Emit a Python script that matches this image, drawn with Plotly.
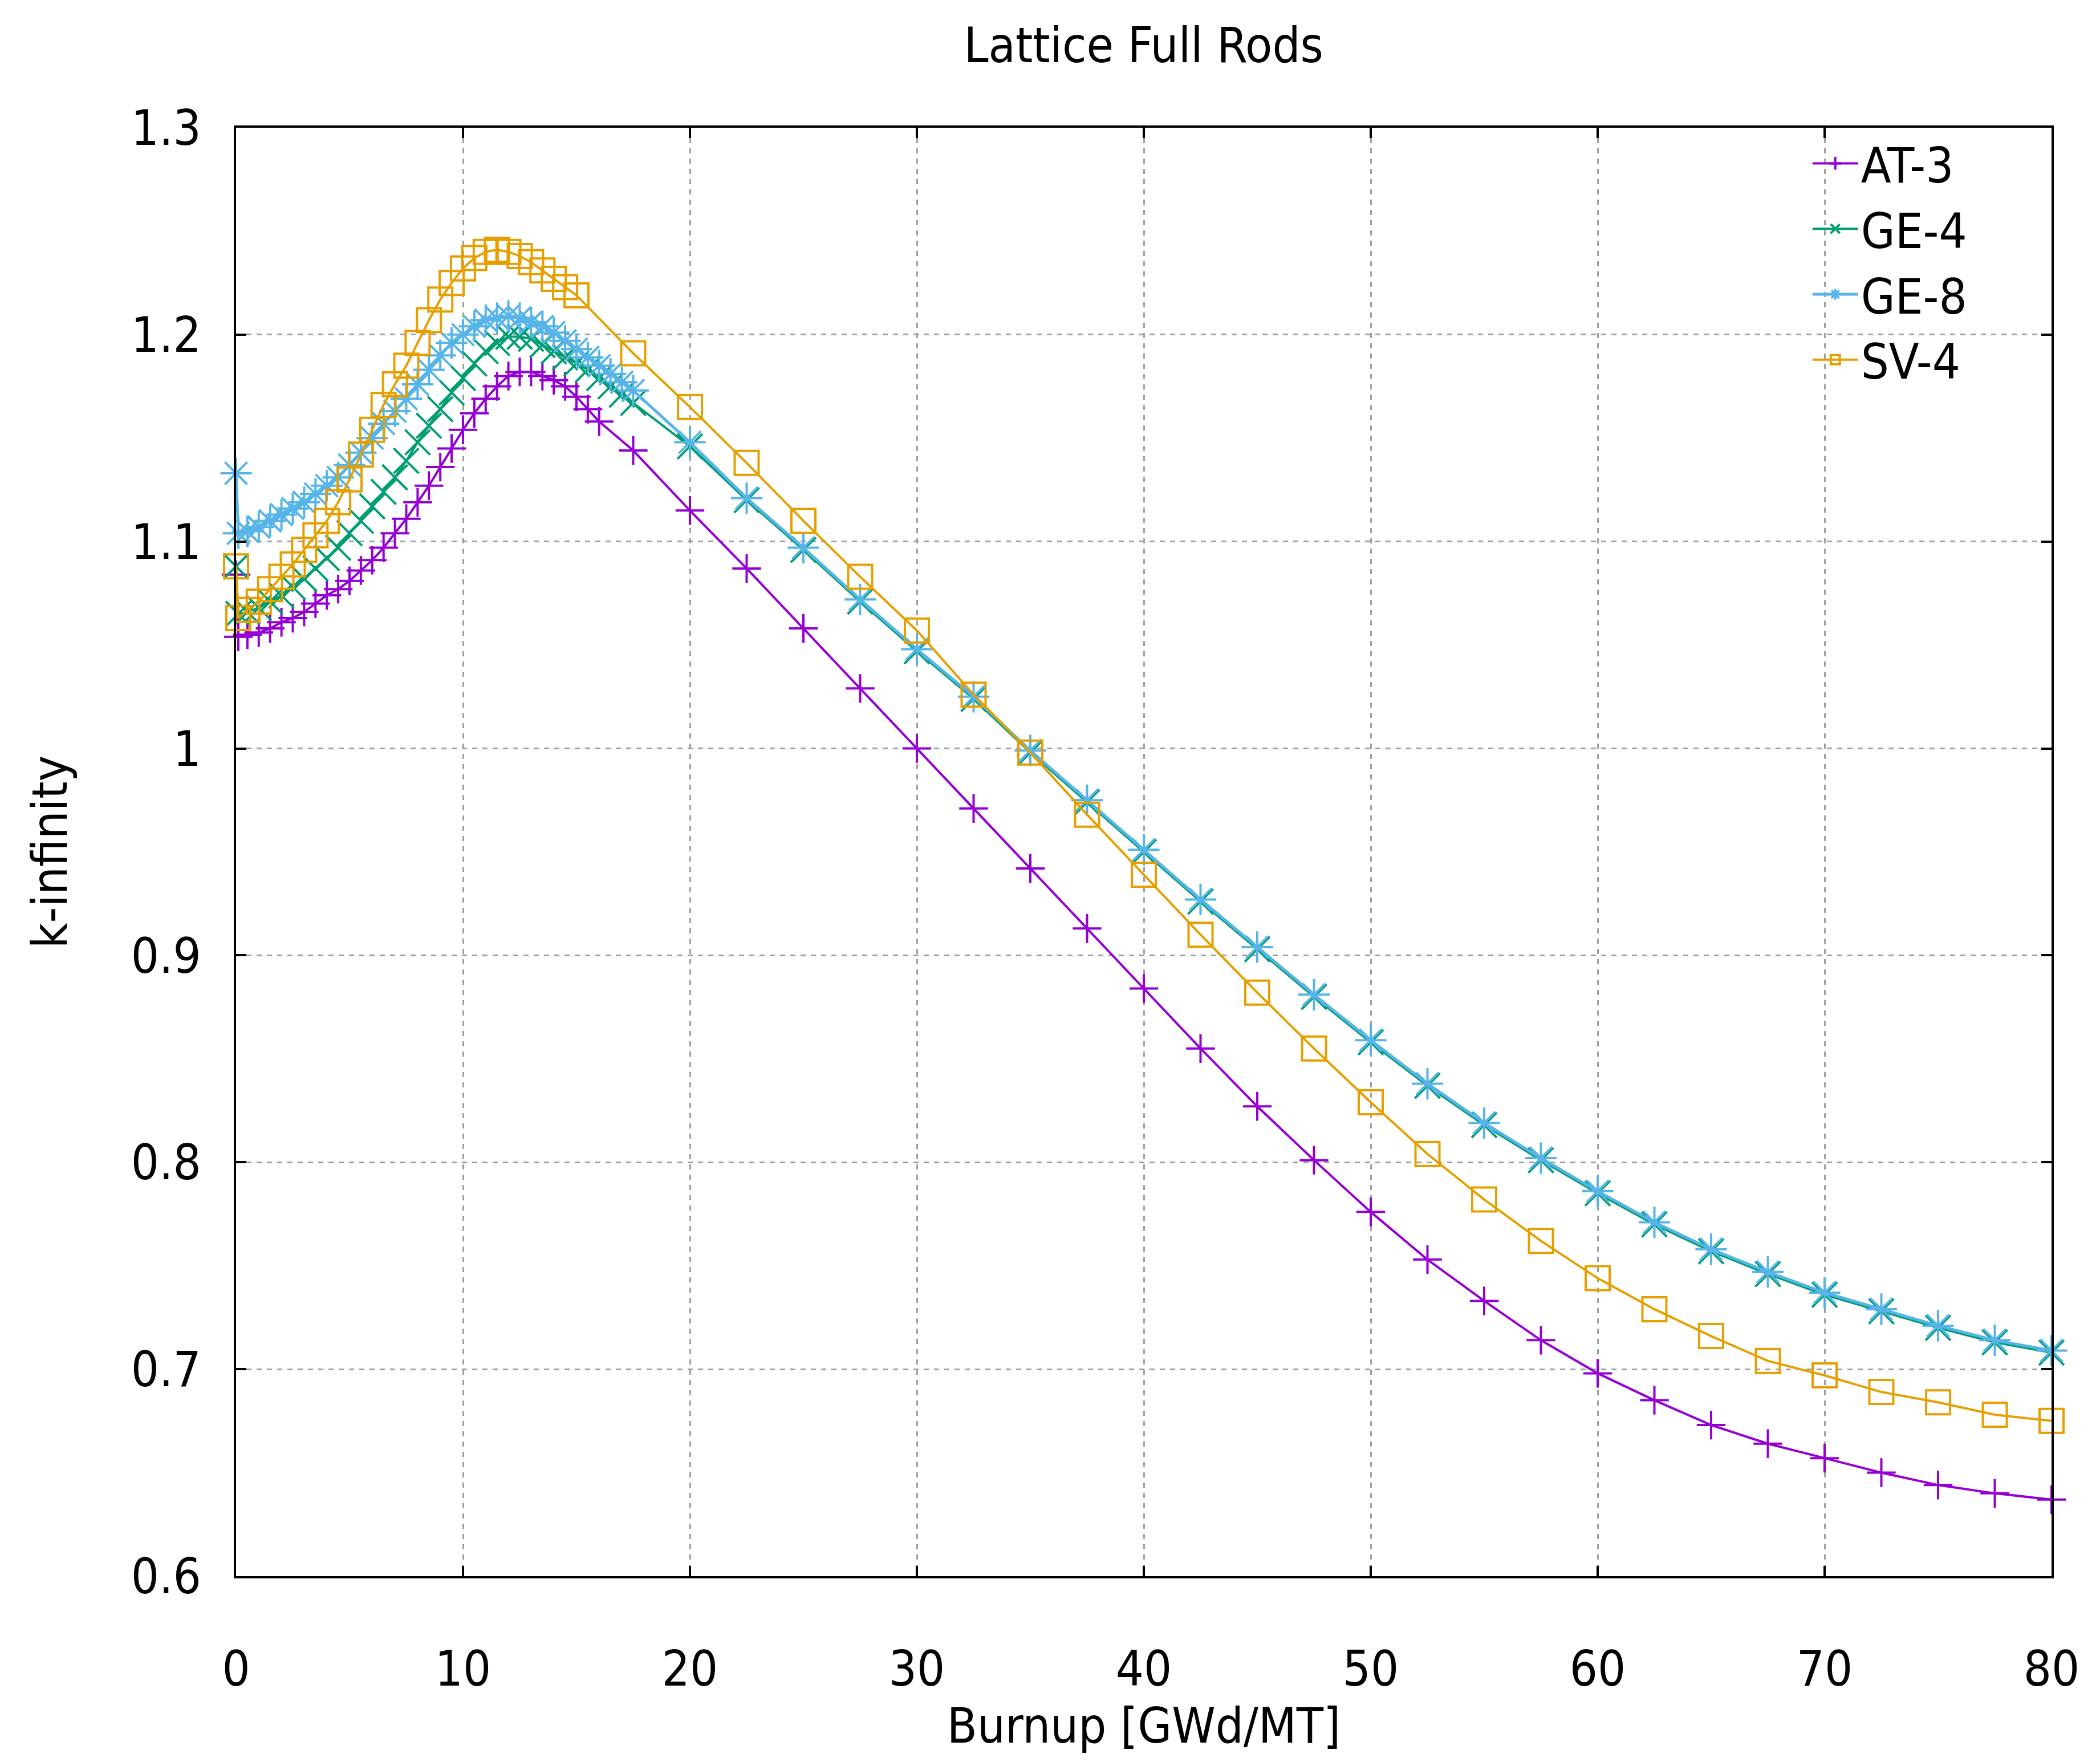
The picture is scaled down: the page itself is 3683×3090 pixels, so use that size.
import plotly.graph_objects as go

# burnup grids (GWd/MT) for each lattice
burnup_at3 = [0, 0.1, 0.5, 1.0, 1.5, 2.0, 2.5, 3.0, 3.5, 4.0, 4.5, 5.0, 5.5, 6.0, 6.5, 7.0,
              7.5, 8.0, 8.5, 9.0, 9.5, 10.0, 10.5, 11.0, 11.5, 12.0, 12.5, 13.0, 13.5, 14.0,
              14.5, 15.0, 15.5, 16.0, 17.5, 20.0, 22.5, 25.0, 27.5, 30.0, 32.5, 35.0, 37.5,
              40.0, 42.5, 45.0, 47.5, 50.0, 52.5, 55.0, 57.5, 60.0, 62.5, 65.0, 67.5, 70.0,
              72.5, 75.0, 77.5, 80.0]
burnup_ge = [0, 0.1, 0.5, 1.0, 1.5, 2.0, 2.5, 3.0, 3.5, 4.0, 4.5, 5.0, 5.5, 6.0, 6.5, 7.0,
             7.5, 8.0, 8.5, 9.0, 9.5, 10.0, 10.5, 11.0, 11.5, 12.0, 12.5, 13.0, 13.5, 14.0,
             14.5, 15.0, 15.5, 16.0, 16.5, 17.0, 17.5, 20.0, 22.5, 25.0, 27.5, 30.0, 32.5,
             35.0, 37.5, 40.0, 42.5, 45.0, 47.5, 50.0, 52.5, 55.0, 57.5, 60.0, 62.5, 65.0,
             67.5, 70.0, 72.5, 75.0, 77.5, 80.0]
burnup_sv4 = [0, 0.1, 0.5, 1.0, 1.5, 2.0, 2.5, 3.0, 3.5, 4.0, 4.5, 5.0, 5.5, 6.0, 6.5, 7.0,
              7.5, 8.0, 8.5, 9.0, 9.5, 10.0, 10.5, 11.0, 11.5, 12.0, 12.5, 13.0, 13.5, 14.0,
              14.5, 15.0, 17.5, 20.0, 22.5, 25.0, 27.5, 30.0, 32.5, 35.0, 37.5, 40.0, 42.5,
              45.0, 47.5, 50.0, 52.5, 55.0, 57.5, 60.0, 62.5, 65.0, 67.5, 70.0, 72.5, 75.0,
              77.5, 80.0]

kinf_at3 = [1.084, 1.054, 1.055, 1.056, 1.058, 1.061, 1.063, 1.066, 1.070, 1.074, 1.077,
            1.081, 1.086, 1.091, 1.097, 1.104, 1.111, 1.119, 1.127, 1.136, 1.145, 1.154,
            1.162, 1.169, 1.175, 1.180, 1.182, 1.182, 1.180, 1.178, 1.175, 1.170, 1.164,
            1.158, 1.144, 1.115, 1.087, 1.058, 1.029, 1.000, 0.971, 0.942, 0.913, 0.884,
            0.855, 0.827, 0.801, 0.776, 0.753, 0.733, 0.714, 0.698, 0.685, 0.673, 0.664,
            0.657, 0.650, 0.644, 0.640, 0.637]
kinf_ge4 = [1.088, 1.065, 1.066, 1.068, 1.071, 1.074, 1.078, 1.082, 1.087, 1.092, 1.097,
            1.104, 1.110, 1.117, 1.124, 1.131, 1.139, 1.148, 1.156, 1.164, 1.172, 1.179,
            1.186, 1.192, 1.196, 1.199, 1.199, 1.198, 1.195, 1.192, 1.189, 1.186, 1.183,
            1.179, 1.175, 1.171, 1.167, 1.146, 1.120, 1.096, 1.071, 1.047, 1.024, 0.998,
            0.974, 0.950, 0.926, 0.903, 0.880, 0.858, 0.837, 0.818, 0.801, 0.785, 0.770,
            0.757, 0.746, 0.736, 0.728, 0.720, 0.713, 0.708]
kinf_ge8 = [1.133, 1.104, 1.105, 1.107, 1.110, 1.113, 1.116, 1.119, 1.123, 1.127, 1.131,
            1.137, 1.143, 1.150, 1.157, 1.163, 1.169, 1.176, 1.183, 1.190, 1.196, 1.200,
            1.204, 1.207, 1.208, 1.209, 1.208, 1.206, 1.204, 1.201, 1.197, 1.193, 1.189,
            1.185, 1.181, 1.177, 1.173, 1.148, 1.121, 1.097, 1.072, 1.048, 1.025, 0.999,
            0.975, 0.951, 0.927, 0.904, 0.881, 0.859, 0.838, 0.819, 0.802, 0.786, 0.771,
            0.758, 0.747, 0.737, 0.729, 0.721, 0.714, 0.709]
kinf_sv4 = [1.088, 1.063, 1.067, 1.071, 1.077, 1.083, 1.089, 1.096, 1.103, 1.110, 1.119,
            1.130, 1.142, 1.154, 1.166, 1.176, 1.185, 1.196, 1.207, 1.217, 1.225, 1.232,
            1.237, 1.240, 1.241, 1.240, 1.238, 1.235, 1.231, 1.227, 1.223, 1.219, 1.191,
            1.165, 1.138, 1.110, 1.083, 1.057, 1.026, 0.998, 0.968, 0.939, 0.910, 0.882,
            0.855, 0.829, 0.804, 0.782, 0.762, 0.744, 0.729, 0.716, 0.704, 0.697, 0.689,
            0.684, 0.678, 0.675]

x_ticks = [0, 10, 20, 30, 40, 50, 60, 70, 80]
y_ticks = [0.6, 0.7, 0.8, 0.9, 1.0, 1.1, 1.2, 1.3]
y_ticktext = ["0.6", "0.7", "0.8", "0.9", "1", "1.1", "1.2", "1.3"]

FONT = "DejaVu Sans Condensed, Liberation Sans, sans-serif"
FS = 86

series = [
    ("AT-3", burnup_at3, kinf_at3, "#9400d3", "cross-thin-open", 36, 4),
    ("GE-4", burnup_ge, kinf_ge4, "#009e73", "x-thin-open", 44, 4),
    ("GE-8", burnup_ge, kinf_ge8, "#56b4e9", "asterisk-open", 46, 5),
    ("SV-4", burnup_sv4, kinf_sv4, "#e69f00", "square-open", 42, 4),
]

fig = go.Figure()
for name, xs, ys, col, sym, sz, lw in series:
    fig.add_trace(go.Scatter(
        x=xs, y=ys, name=name, mode="lines+markers",
        line=dict(color=col, width=lw),
        marker=dict(symbol=sym, size=sz, color=col, line=dict(color=col, width=4)),
        cliponaxis=False,
    ))

axis_common = dict(
    showline=True, linecolor="black", linewidth=4, mirror="ticks",
    ticks="inside", ticklen=18, tickwidth=4, tickcolor="black",
    showgrid=True, gridcolor="#a0a0a0", gridwidth=3, griddash="dash",
    zeroline=False, automargin=False,
    tickfont=dict(family=FONT, size=FS, color="black"),
)

fig.update_layout(
    width=3683, height=3090,
    margin=dict(l=406, r=93, t=216, b=334),
    paper_bgcolor="white", plot_bgcolor="white",
    font=dict(family=FONT, size=FS, color="black"),
    title=dict(text="Lattice Full Rods", x=0.5424, xanchor="center",
               y=0.977, yanchor="middle", font=dict(family=FONT, size=FS)),
    xaxis=dict(range=[0, 80], tickvals=x_ticks, ticklabelstandoff=85,
               title=dict(text="Burnup [GWd/MT]", standoff=12,
                          font=dict(family=FONT, size=FS)),
               **axis_common),
    yaxis=dict(range=[0.6, 1.3], tickvals=y_ticks, ticktext=y_ticktext,
               ticklabelstandoff=40,
               title=dict(text="k-infinity", standoff=85,
                          font=dict(family=FONT, size=FS)),
               **axis_common),
    legend=dict(x=0.955, xanchor="right", y=1.0, yanchor="top",
                bgcolor="rgba(0,0,0,0)", font=dict(family=FONT, size=FS),
                itemwidth=80, tracegroupgap=0),
)

fig.write_html("out.html")
